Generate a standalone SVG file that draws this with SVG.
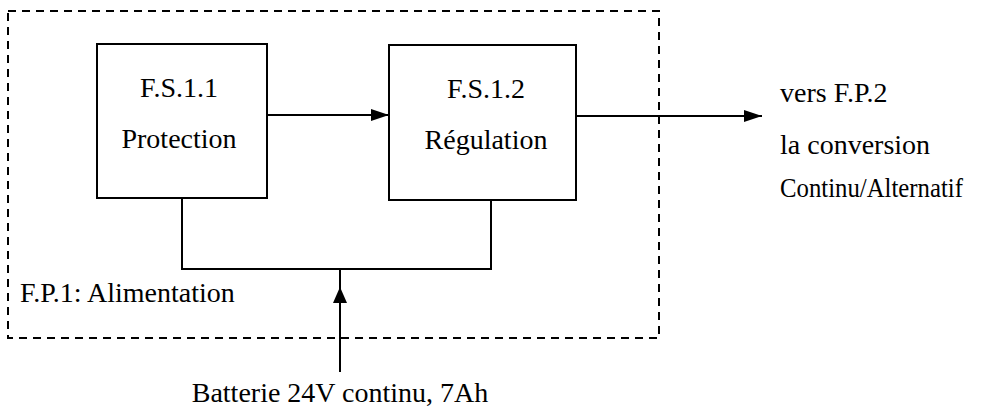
<svg xmlns="http://www.w3.org/2000/svg" width="990" height="415" viewBox="0 0 990 415">
<defs>
<style>
text{font-family:"Liberation Serif","Times New Roman",serif;font-size:28px;fill:#000}
.box{fill:#fff;stroke:#000;stroke-width:2}
.ln{fill:none;stroke:#000;stroke-width:2}
.dash{fill:none;stroke:#000;stroke-width:2;stroke-dasharray:8 6}
</style>
<marker id="ah" viewBox="0 0 18 12" refX="18" refY="6" markerWidth="18" markerHeight="12" markerUnits="userSpaceOnUse" orient="auto">
<path d="M0,0 L18,6 L0,12 z" fill="#000"/>
</marker>
</defs>
<g id="fp1">
<rect class="dash" x="8" y="11" width="651" height="327"/>
<text x="20" y="302">F.P.1: Alimentation</text>
</g>
<g id="fs11">
<rect class="box" x="97" y="44" width="170" height="154"/>
<text x="179" y="97" text-anchor="middle">F.S.1.1</text>
<text x="179" y="148" text-anchor="middle">Protection</text>
</g>
<g id="fs12">
<rect class="box" x="389" y="45" width="187" height="155"/>
<text x="486" y="98" text-anchor="middle">F.S.1.2</text>
<text x="486" y="149" text-anchor="middle">Régulation</text>
</g>
<g id="out">
<text x="780" y="102">vers F.P.2</text>
<text x="780" y="154">la conversion</text>
<text x="780" y="197" textLength="183" lengthAdjust="spacingAndGlyphs">Continu/Alternatif</text>
</g>
<g id="bat">
<text x="340" y="402" text-anchor="middle">Batterie 24V continu, 7Ah</text>
</g>
<g id="connectors">
<line class="ln" x1="267" y1="115" x2="389" y2="115" marker-end="url(#ah)"/>
<line class="ln" x1="576" y1="116" x2="762" y2="116" marker-end="url(#ah)"/>
<polyline class="ln" points="182,198 182,269 491,269 491,200"/>
<line class="ln" x1="340" y1="372" x2="340" y2="269"/>
<path d="M340,287 L347,303 L333,303 z" fill="#000"/>
</g>
</svg>
